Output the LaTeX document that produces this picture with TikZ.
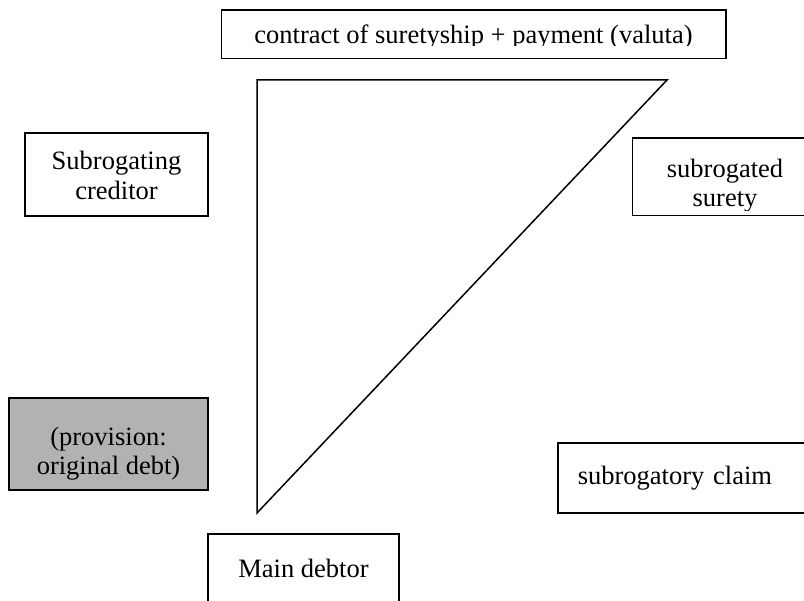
\documentclass[tikz,border=0pt]{standalone}
\usepackage{fontspec}
\setmainfont{Liberation Serif}
\begin{document}
\begin{tikzpicture}[x=1pt, y=-1pt,
    box/.style={draw, line width=1.5pt, inner sep=0pt, align=center,
      font=\fontsize{26.5}{29.5}\selectfont},
    shaded/.style={box, fill=black!30}]
  \useasboundingbox (0,0) rectangle (804,601);

  \draw[line width=1.5pt] (257,80) -- (667,80) -- (257,513) -- cycle;

  \begin{scope}
    \clip (222,11) rectangle (725,46);
    \node[box, draw=none, minimum width=503, minimum height=47,
      text height=18, text depth=0] (contract) at (473.5,34.5)
      {contract of suretyship + payment (valuta)};
  \end{scope}
  \draw[line width=1.5pt] (contract.north west) rectangle (contract.south east);

  \node[box, minimum width=183, minimum height=83] (creditor) at (116.5,174.5)
    {\rule{0pt}{20pt}Subrogating\\creditor};

  \begin{scope}
    \clip (633,139) rectangle (817,211);
    \node[box, draw=none, minimum width=184, minimum height=76] (surety) at (725,177)
      {\rule{0pt}{36pt}subrogated\\surety};
  \end{scope}
  \draw[line width=1.5pt] (surety.north west) rectangle (surety.south east);

  \node[shaded, minimum width=199, minimum height=92] (provision) at (108.5,444)
    {\rule{0pt}{38pt}(provision:\\original debt)};

  \node[box, anchor=west, minimum height=70, text height=18, text depth=4,
    inner xsep=20pt, text width=250, align=left] (claim) at (557,478)
    {subrogatory claim};

  \node[box, minimum width=191, minimum height=68] (debtor) at (303.5,568)
    {Main debtor};
\end{tikzpicture}
\end{document}
